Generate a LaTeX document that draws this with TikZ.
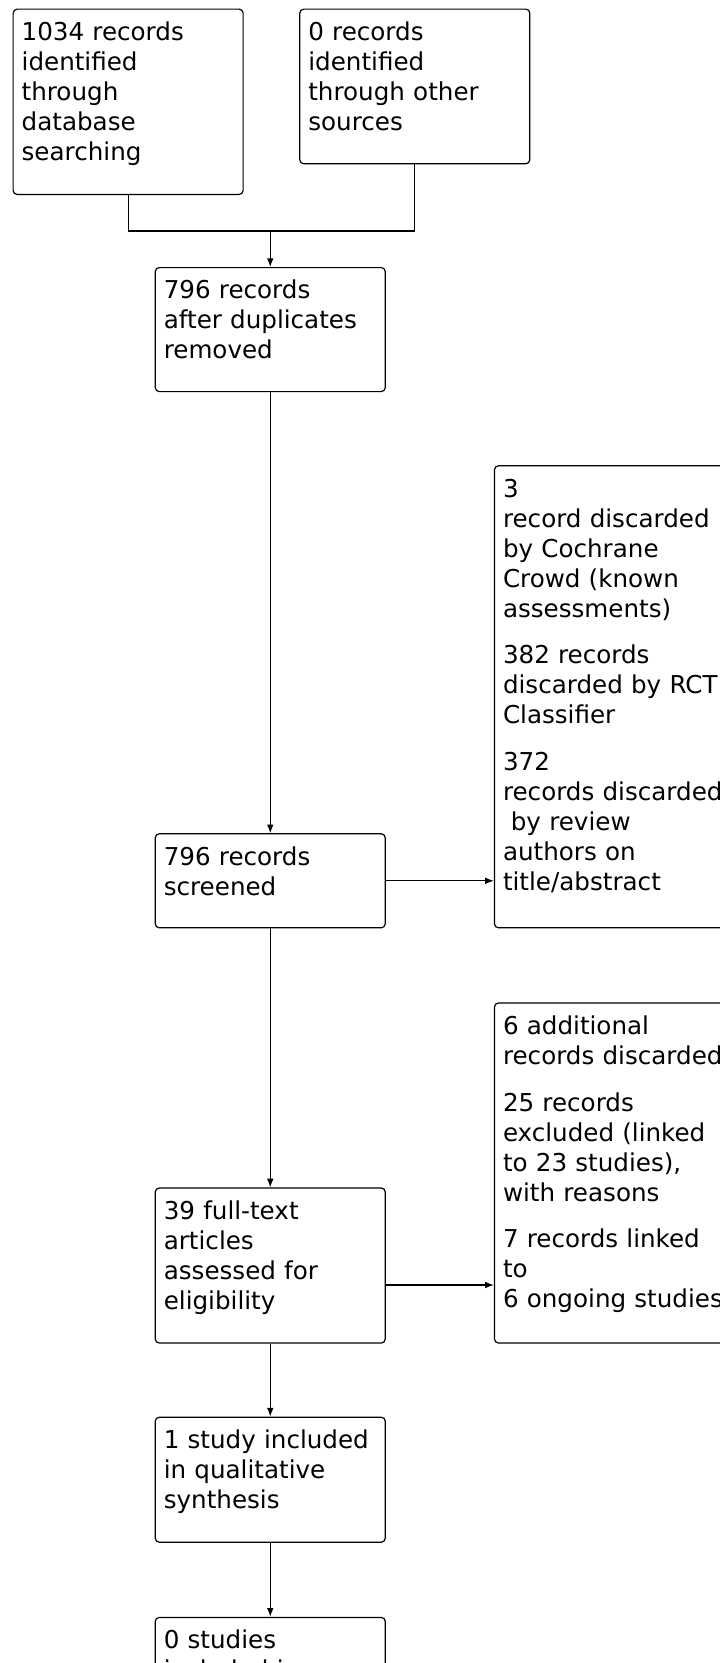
\documentclass[tikz,border=0pt]{standalone}
\usepackage{fontspec}
\setmainfont{DejaVu Sans}
\usepackage{tikz}
\usetikzlibrary{positioning,arrows.meta}
\tikzset{flow box/.style={draw,rounded corners=3pt,line width=0.9pt,align=left,text width=159.7pt,inner xsep=6.4pt,inner ysep=0pt,font=\fontsize{18.45}{22.5}\selectfont,text height=23.5pt,text depth=#1},
side box/.style={flow box=#1,text width=176pt},}

\begin{document}
\begin{tikzpicture}[>={Latex[length=6.5pt,width=5pt]},line width=0.9pt]
       \path[use as bounding box,clip] (0,0) rectangle (540pt,-1247.25pt);

       \node[flow box=115.5pt,anchor=north west] (db) at (9.4pt,-6.4pt) {1034 records\\identified\\through\\database\\searching};
       \node[flow box=92.5pt] (other) [right = 41.6pt of db.north east,anchor=north west] {0 records\\identified\\through other\\sources};
       \coordinate (join) at (202.7pt,-173.25pt);

       \node[flow box=69.5pt] (dup) [below = 27pt of join] {796 records\\after duplicates\\removed};
       \node[flow box=47pt] (scr) [below = 330.75pt of dup] {796 records\\screened};
       \node[side box=323pt] (exc1) [right = 81pt of scr.south east,anchor=south west] {3\\record discarded\\by Cochrane\\Crowd (known\\assessments)\\[12.5pt]382 records\\discarded by RCT\\Classifier\\[12.5pt]372\\records discarded\\\hspace*{0.32em}by review\\authors on\\title/abstract};

       \node[flow box=92.75pt] (full) [below = 194.25pt of scr] {39 full-text\\articles\\assessed for\\eligibility};
       \node[side box=231.5pt] (exc2) [right = 81pt of full.south east,anchor=south west] {6 additional\\records discarded\\[12.5pt]25 records\\excluded (linked\\to 23 studies),\\with reasons\\[12.5pt]7 records linked\\to\\6 ongoing studies};
       \coordinate[below = 14.6pt of full.east] (fe);

       \node[flow box=70.25pt] (qual) [below = 54.75pt of full] {1 study included\\in qualitative\\synthesis};
       \node[flow box=92.5pt] (quant) [below = 55.5pt of qual] {0 studies\\included in};

       \draw (db.south) |- (join) -| (other.south);
       \draw[->] (join) -- (dup);
       \draw[->] (dup) -- (scr);
       \draw[->] (scr.east) -- (scr.east -| exc1.west);
       \draw[->] (scr) -- (full);
       \draw[->] (fe) -- (fe -| exc2.west);
       \draw[->] (full) -- (qual);
       \draw[->] (qual) -- (quant);
    \end{tikzpicture}
\end{document}
